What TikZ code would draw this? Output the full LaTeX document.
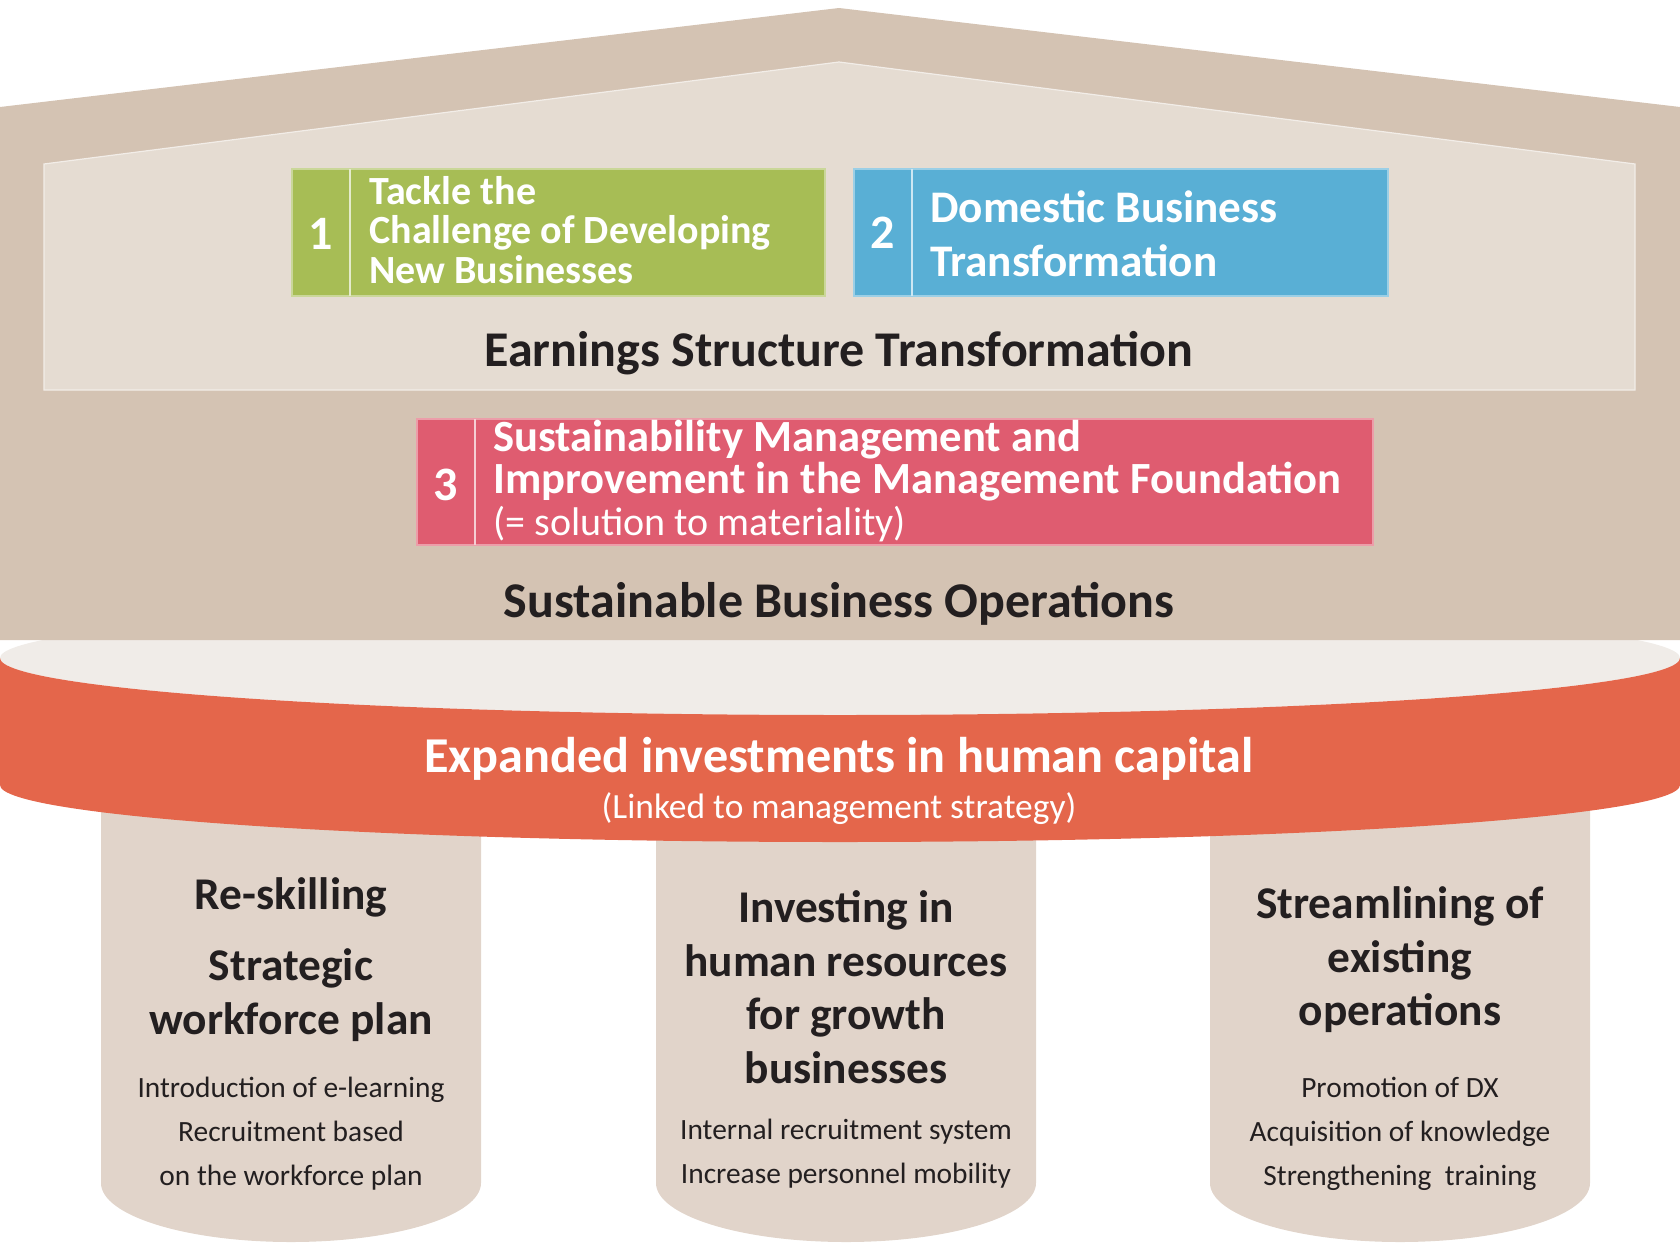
\documentclass[tikz,border=0pt]{standalone}
\usepackage{fontspec}
\setmainfont{Carlito}
\definecolor{roofbrown}{HTML}{D4C3B3}
\definecolor{panelbeige}{HTML}{E5DCD2}
\definecolor{boxgreen}{HTML}{A7BD55}
\definecolor{boxblue}{HTML}{59AFD5}
\definecolor{boxred}{HTML}{DF5C70}
\definecolor{bandorange}{HTML}{E4664B}
\definecolor{bandtop}{HTML}{F0ECE8}
\definecolor{pillarbeige}{HTML}{E1D4CA}
\definecolor{darktext}{HTML}{231F20}
\begin{document}
\begin{tikzpicture}[x=0.5pt,y=-0.5pt,
  headline/.style={font=\fontsize{25}{28}\selectfont\bfseries,text=darktext},
  numlabel/.style={font=\fontsize{24}{28}\selectfont\bfseries,text=white},
  boxlabel/.style={anchor=west,align=left,text=white,inner sep=0pt},
  pillarhead/.style={font=\fontsize{22.7}{26.8}\selectfont\bfseries,text=darktext,align=center},
  pillarnote/.style={font=\fontsize{14.7}{22}\selectfont,text=darktext,align=center}]
  \useasboundingbox (0,0) rectangle (1680,1242);

  % pillars
  \foreach \cx in {291,846,1400}
    \fill[pillarbeige] (\cx-190,760) -- (\cx-190,1183)
      arc[start angle=180,end angle=0,x radius=190,y radius=59]
      -- (\cx+190,760) -- cycle;

  % top of the band, partly behind the house
  \fill[bandtop] (840,658) ellipse[x radius=840,y radius=57];

  % house
  \fill[roofbrown] (0,107) -- (839,8) -- (1680,107) -- (1680,640) -- (0,640) -- cycle;
  \filldraw[fill=panelbeige,draw=white!50!panelbeige,line width=0.6pt]
    (44,164) -- (839,62) -- (1635,164) -- (1635,390) -- (44,390) -- cycle;

  % band
  \fill[bandorange] (0,658) -- (0,785)
    arc[start angle=180,end angle=0,x radius=840,y radius=57]
    -- (1680,658) arc[start angle=0,end angle=180,x radius=840,y radius=57] -- cycle;

  % boxes
  \filldraw[fill=boxgreen,draw=white!40!boxgreen,line width=0.6pt] (292,169) rectangle (825,296);
  \draw[white!70!boxgreen,line width=0.8pt] (350,169) -- (350,296);
  \filldraw[fill=boxblue,draw=white!40!boxblue,line width=0.6pt] (854,169) rectangle (1388,296);
  \draw[white!70!boxblue,line width=0.8pt] (912,169) -- (912,296);
  \filldraw[fill=boxred,draw=white!40!boxred,line width=0.6pt] (417,419) rectangle (1373,545);
  \draw[white!70!boxred,line width=0.8pt] (475,419) -- (475,545);

  \node[numlabel] (num1) at (321,234) {1};
  \node[boxlabel,font=\fontsize{20}{19.75}\selectfont\bfseries] (tackle) at (369,230)
    {Tackle the\\Challenge of Developing\\New Businesses};
  \node[numlabel] (num2) at (883,233) {2};
  \node[boxlabel,font=\fontsize{22.6}{27}\selectfont\bfseries] (domestic) at (930,234)
    {Domestic Business\\Transformation};
  \node[numlabel] (num3) at (446,485) {3};
  \node[boxlabel,font=\fontsize{22.3}{20.8}\selectfont\bfseries] (sustain) at (493,481)
    {Sustainability Management and\\Improvement in the Management Foundation\\
     {\fontsize{20}{20.8}\selectfont\mdseries (= solution to materiality)}};

  \node[headline] (earnings) at (839,353) {Earnings Structure Transformation};
  \node[headline] (operations) at (839,604) {Sustainable Business Operations};

  \node[font=\fontsize{25.1}{28}\selectfont\bfseries,text=white] (invest) at (839,759)
    {Expanded investments in human capital};
  \node[font=\fontsize{17.7}{20}\selectfont,text=white] (linked) at (839,809)
    {(Linked to management strategy)};

  % pillar texts
  \node[pillarhead] (reskill) at (291,897) {Re-skilling};
  \node[pillarhead] (workforce) at (291,995) {Strategic\\workforce plan};
  \node[pillarnote] (elearn) at (291,1134)
    {Introduction of e-learning\\Recruitment based\\on the workforce plan};
  \node[pillarhead] (growth) at (846,987)
    {Investing in\\human resources\\for growth\\businesses};
  \node[pillarnote] (mobility) at (846,1154)
    {Internal recruitment system\\Increase personnel mobility};
  \node[pillarhead] (streamline) at (1400,960)
    {Streamlining of\\existing\\operations};
  \node[pillarnote] (dx) at (1400,1134)
    {Promotion of DX\\Acquisition of knowledge\\Strengthening\ \ training};
\end{tikzpicture}
\end{document}
